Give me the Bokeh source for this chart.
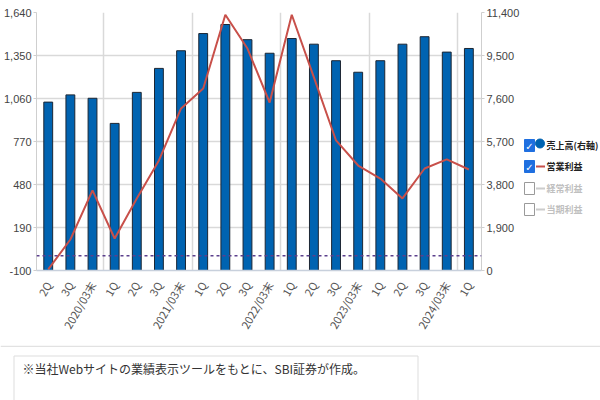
import math
from bokeh.plotting import figure
from bokeh.layouts import column, row
from bokeh.models import (Range1d, LinearAxis, FixedTicker, Span, NumeralTickFormatter)
from bokeh.core.properties import value
from bokeh.embed import file_html
from bokeh.resources import INLINE

# ---------------- data ----------------
categories = ["2Q", "3Q", "2020/03末", "1Q", "2Q", "3Q", "2021/03末", "1Q", "2Q", "3Q",
              "2022/03末", "1Q", "2Q", "3Q", "2023/03末", "1Q", "2Q", "3Q", "2024/03末", "1Q"]
sales = [7440, 7760, 7610, 6500, 7870, 8930, 9710, 10470, 10870, 10200,
         9600, 10250, 10000, 9270, 8760, 9270, 10000, 10330, 9650, 9810]
op_profit = [-93, 109, 440, 116, 386, 642, 993, 1127, 1625, 1397,
             1033, 1625, 1202, 777, 608, 520, 386, 588, 649, 581]
left_ticks = [-100, 190, 480, 770, 1060, 1350, 1640]
right_ticks = [0, 1900, 3800, 5700, 7600, 9500, 11400]
legend_labels = ["売上高(右軸)", "営業利益", "経常利益", "当期利益"]
legend_active = [True, True, False, False]
footnote = "※当社Webサイトの業績表示ツールをもとに、SBI証券が作成。"

# ---------------- layout constants ----------------
W, H = 600, 400
CHART_W, CHART_H = 522, 345
FL, FR, FT, FB = 30, 488, 12, 270
NUM_FONT = "Liberation Sans Narrow, Liberation Sans"
JP_FONT = "Noto Sans CJK JP"
BAR_COLOR = "#0063B1"
LINE_COLOR = "#C8504A"

idx = list(range(len(categories)))

# ---------------- main chart ----------------
p = figure(width=CHART_W, height=CHART_H, output_backend="svg", toolbar_location=None,
           x_range=Range1d(-0.53, len(categories) - 0.43),
           y_range=Range1d(left_ticks[0], left_ticks[-1]),
           min_border_left=FL, min_border_right=CHART_W - FR,
           min_border_top=FT, min_border_bottom=CHART_H - FB,
           background_fill_color="white", border_fill_color="white",
           outline_line_color=None)

p.extra_y_ranges = {"right": Range1d(right_ticks[0], right_ticks[-1])}

p.ygrid.ticker = FixedTicker(ticks=left_ticks)
p.ygrid.grid_line_color = "#d9d9d9"
p.ygrid.grid_line_width = 1.5
year_ends = [i + 0.5 for i, c in enumerate(categories) if "末" in c]
p.xgrid.ticker = FixedTicker(ticks=year_ends)
p.xgrid.grid_line_color = "#d9d9d9"
p.xgrid.grid_line_width = 1.5

def style_y(ax):
    ax.axis_line_color = "#cfcfcf"
    ax.major_tick_out = 3
    ax.major_tick_in = 0
    ax.major_tick_line_color = "#cfcfcf"
    ax.minor_tick_line_color = None
    ax.major_label_standoff = 2
    ax.major_label_text_font = NUM_FONT
    ax.major_label_text_font_size = "11px"
    ax.major_label_text_color = "#444444"

la = p.yaxis[0]
la.ticker = FixedTicker(ticks=left_ticks)
la.formatter = NumeralTickFormatter(format="0,0")
style_y(la)

ra = LinearAxis(y_range_name="right", ticker=FixedTicker(ticks=right_ticks),
                formatter=NumeralTickFormatter(format="0,0"))
style_y(ra)
p.add_layout(ra, "right")

xa = p.xaxis[0]
xa.ticker = FixedTicker(ticks=idx)
xa.major_label_overrides = {i: c for i, c in enumerate(categories)}
xa.major_label_orientation = math.pi / 3
xa.axis_line_color = "#c8d0dc"
xa.axis_line_width = 1.5
xa.major_tick_line_color = None
xa.minor_tick_line_color = None
xa.major_label_standoff = 6
xa.major_label_text_font = JP_FONT
xa.major_label_text_font_size = "11px"
xa.major_label_text_color = "#555555"

p.vbar(x=idx, top=sales, bottom=0, width=0.4, y_range_name="right",
       fill_color=BAR_COLOR, line_color="#1c2633", line_width=1)
p.line(idx, op_profit, line_color=LINE_COLOR, line_width=2)
p.add_layout(Span(location=0, dimension="width", line_color="#5b3f8c",
                  line_dash="3 3", line_width=1.5))

# ---------------- legend panel (pixel coordinates) ----------------
# The row layout aligns this panel's frame with the chart's frame (FT..FB),
# so its y range is expressed in the same canvas pixels.
LEG_W = W - CHART_W
lg = figure(width=LEG_W, height=CHART_H, output_backend="svg", toolbar_location=None,
            x_range=Range1d(CHART_W, W), y_range=Range1d(FB, FT),
            x_axis_location=None, y_axis_location=None,
            min_border=0, outline_line_color=None,
            background_fill_color="white", border_fill_color="white")
lg.grid.visible = False

row_y = [145, 166, 188, 209]
for i, (lab, act) in enumerate(zip(legend_labels, legend_active)):
    cy = row_y[i]
    if act:
        lg.rect(x=[529], y=[cy], width=10, height=12,
                fill_color="#1f6fe0", line_color="#1f6fe0")
        lg.text(x=[529], y=[cy + 1], text=["✓"], text_color="white",
                text_font=value("DejaVu Sans"), text_font_size=value("10px"),
                text_font_style="bold", text_align="center", text_baseline="middle")
    else:
        lg.rect(x=[529], y=[cy], width=10, height=12,
                fill_color="white", line_color="#9a9a9a")
    if i == 0:
        lg.scatter(x=[539.5], y=[cy - 2], size=9, marker="circle",
                   fill_color=BAR_COLOR, line_color=BAR_COLOR)
    else:
        lg.rect(x=[540], y=[cy], width=9, height=2, line_color=None,
                fill_color=LINE_COLOR if i == 1 else "#cccccc")
    lg.text(x=[546], y=[cy], text=[lab],
            text_color="#222222" if act else "#c0c0c0",
            text_font=value(JP_FONT), text_font_size=value("9px"),
            text_font_style="bold", text_align="left", text_baseline="middle")

# ---------------- footnote panel (pixel coordinates) ----------------
FOOT_H = H - CHART_H
ft = figure(width=W, height=FOOT_H, output_backend="svg", toolbar_location=None,
            x_range=Range1d(0, W), y_range=Range1d(H, CHART_H),
            x_axis_location=None, y_axis_location=None,
            min_border=0, outline_line_color=None,
            background_fill_color="white", border_fill_color="white")
ft.grid.visible = False
ft.quad(left=[0], right=[W], top=[CHART_H], bottom=[CHART_H + 1.5],
        fill_color="#e2e2e2", line_color=None)
ft.quad(left=[13.5], right=[417.5], top=[355.5], bottom=[H + 5],
        fill_color="white", line_color="#dddddd", line_width=1)
ft.text(x=[22], y=[368], text=[footnote], text_color="#333333",
        text_font=value(JP_FONT), text_font_size=value("12px"),
        text_align="left", text_baseline="middle")

layout = column(row(p, lg, spacing=0), ft, spacing=0)
open("out.html", "w").write(file_html(layout, INLINE))
